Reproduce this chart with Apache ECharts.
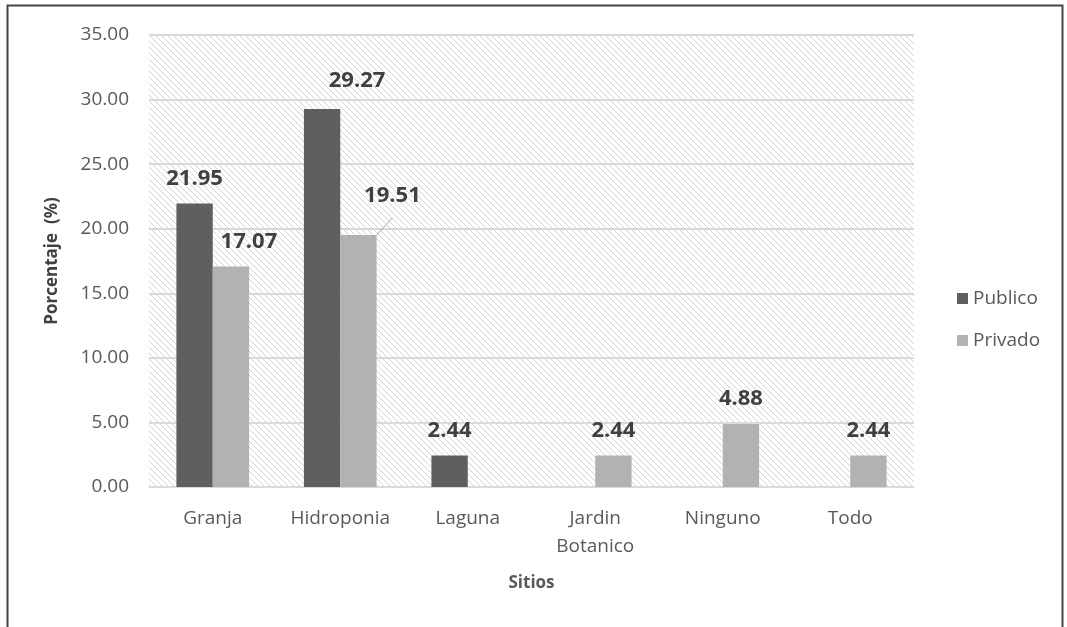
<!DOCTYPE html>
<html><head><meta charset="utf-8">
<script src="https://cdn.jsdelivr.net/npm/echarts@6/dist/echarts.min.js"></script>
<style>html,body{margin:0;padding:0;background:#fff}#c{width:1067px;height:627px}</style>
</head><body><div id="c"></div>
<script>
var categories = ['Granja', 'Hidroponia', 'Laguna', 'Jardin\nBotanico', 'Ninguno', 'Todo'];
var publico = [21.95, 29.27, 2.44, 0, 0, 0];
var privado = [17.07, 19.51, 0, 2.44, 4.88, 2.44];
var yTicks = [0, 5, 10, 15, 20, 25, 30, 35];

// hatch pattern tile
var tile = document.createElement('canvas');
tile.width = 6; tile.height = 6;
var g = tile.getContext('2d');
g.fillStyle = '#ffffff'; g.fillRect(0, 0, 6, 6);
g.strokeStyle = '#d4d4d4'; g.lineWidth = 1;
g.beginPath();
g.moveTo(-1, -1); g.lineTo(7, 7);
g.moveTo(-7, -1); g.lineTo(1, 7);
g.moveTo(5, -1); g.lineTo(13, 7);
g.stroke();

var pubLabelOffsets = {1: [35, -3]};
var privOffsets = {0: [18, 0], 1: [34, -14]};
var leaderIdx = {1: true};

function mk(vals, offs, leaders) {
  return vals.map(function (v, i) {
    var o = { value: v };
    if (offs[i]) o.label = { offset: offs[i] };
    if (leaders && leaders[i]) o.labelLine = { show: true, lineStyle: { color: '#a6a6a6', width: 1 } };
    return o;
  });
}

var chart = echarts.init(document.getElementById('c'));
var labelCfg = {
  show: true, position: 'top', distance: 14,
  fontFamily: 'Open Sans', fontWeight: 'bold', fontSize: 22, color: '#404040',
  formatter: function (p) { return p.value ? p.value.toFixed(2) : ''; }
};
chart.setOption({
  animation: false,
  graphic: [{
    type: 'rect', shape: { x: 7.5, y: 5.5, width: 1055, height: 640 },
    style: { fill: 'none', stroke: '#444', lineWidth: 2 }, silent: true
  }],
  grid: {
    left: 149, right: 153, top: 35, bottom: 140,
    show: true, borderWidth: 0,
    backgroundColor: { image: tile, repeat: 'repeat' }
  },
  legend: {
    orient: 'vertical', left: 952, top: 284, itemGap: 23,
    itemWidth: 11, itemHeight: 11, icon: 'rect',
    textStyle: { fontFamily: 'Open Sans', fontSize: 19, color: '#595959' },
    data: ['Publico', 'Privado']
  },
  xAxis: {
    type: 'category', data: categories,
    name: 'Sitios', nameLocation: 'middle', nameGap: 88,
    nameTextStyle: { fontFamily: 'Open Sans', fontWeight: 'bold', fontSize: 17, color: '#595959' },
    axisLine: { lineStyle: { color: '#d9d9d9', width: 1 } },
    axisTick: { show: false },
    axisLabel: { interval: 0, hideOverlap: false, fontFamily: 'Open Sans', fontSize: 19, color: '#595959', margin: 18, lineHeight: 28 }
  },
  yAxis: {
    type: 'value', min: 0, max: 35, interval: 5,
    name: 'Porcentaje  (%)', nameLocation: 'middle', nameGap: 88, nameRotate: 90,
    nameTextStyle: { fontFamily: 'Open Sans', fontWeight: 'bold', fontSize: 17, color: '#404040' },
    axisLine: { show: false }, axisTick: { show: false },
    axisLabel: {
      fontFamily: 'Open Sans', fontSize: 19, color: '#595959', margin: 20,
      formatter: function (v) { return yTicks.indexOf(v) >= 0 ? v.toFixed(2) : ''; }
    },
    splitLine: { lineStyle: { color: '#d9d9d9', width: 2 } }
  },
  series: [{
    name: 'Publico', type: 'bar', data: mk(publico, pubLabelOffsets),
    barGap: '0%', barCategoryGap: '43%',
    itemStyle: { color: '#5f5f5f' },
    label: labelCfg
  }, {
    name: 'Privado', type: 'bar', data: mk(privado, privOffsets, leaderIdx),
    itemStyle: { color: '#b2b2b2' },
    label: labelCfg
  }]
});
</script></body></html>
